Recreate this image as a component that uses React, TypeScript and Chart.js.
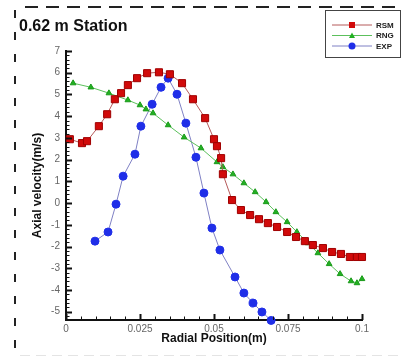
import React, { useEffect, useRef } from "react";
import { Chart, registerables } from "chart.js";

Chart.register(...registerables);

const chartTitle = "0.62 m Station";
const xAxisTitle = "Radial Position(m)";
const yAxisTitle = "Axial velocity(m/s)";

const xTickValues = [0, 0.025, 0.05, 0.075, 0.1];
const xTickLabels = ["0", "0.025", "0.05", "0.075", "0.1"];
const yTickValues = [-5, -4, -3, -2, -1, 0, 1, 2, 3, 4, 5, 6, 7];
const yTickLabels = ["-5", "-4", "-3", "-2", "-1", "0", "1", "2", "3", "4", "5", "6", "7"];

const rsmX = [0.0013, 0.0054, 0.0071, 0.0111, 0.0139, 0.0165, 0.0186, 0.0209, 0.024, 0.0274, 0.0314, 0.0351, 0.0392, 0.0429, 0.047, 0.05, 0.051, 0.0524, 0.053, 0.0561, 0.0591, 0.0622, 0.0652, 0.0682, 0.0713, 0.0747, 0.0777, 0.0807, 0.0834, 0.0868, 0.0899, 0.0929, 0.0959, 0.0983, 0.1];
const rsmY = [2.94, 2.76, 2.85, 3.54, 4.09, 4.78, 5.06, 5.43, 5.75, 5.98, 6.02, 5.93, 5.52, 4.78, 3.91, 2.94, 2.62, 2.07, 1.33, 0.14, -0.32, -0.55, -0.74, -0.92, -1.1, -1.33, -1.56, -1.75, -1.93, -2.07, -2.25, -2.34, -2.48, -2.48, -2.48];

const rngX = [0.0024, 0.0084, 0.0145, 0.0209, 0.025, 0.027, 0.0294, 0.0345, 0.0399, 0.0456, 0.051, 0.053, 0.0564, 0.0601, 0.0639, 0.0676, 0.0709, 0.0747, 0.078, 0.0818, 0.0851, 0.0889, 0.0926, 0.0963, 0.0983, 0.1];
const rngY = [5.52, 5.33, 5.06, 4.74, 4.51, 4.32, 4.14, 3.59, 3.03, 2.53, 1.89, 1.66, 1.33, 0.92, 0.51, 0.05, -0.41, -0.87, -1.33, -1.84, -2.3, -2.8, -3.26, -3.59, -3.68, -3.49];

const expX = [0.0098, 0.0142, 0.0169, 0.0193, 0.0233, 0.0253, 0.0291, 0.0321, 0.0345, 0.0375, 0.0405, 0.0439, 0.0466, 0.0493, 0.052, 0.0571, 0.0601, 0.0632, 0.0662, 0.0693];
const expY = [-1.75, -1.33, -0.05, 1.24, 2.25, 3.54, 4.55, 5.33, 5.75, 5.01, 3.68, 2.11, 0.46, -1.15, -2.16, -3.4, -4.14, -4.6, -5.01, -5.4];

const seriesNames = ["RSM", "RNG", "EXP"];

const FONT = "'Liberation Sans', Arial, sans-serif";
const X_MIN = 0, X_MAX = 0.1, Y_MIN = -5.38, Y_MAX = 7;

const toPoints = (xs: number[], ys: number[]) => xs.map((x, i) => ({ x, y: ys[i] }));

const decorPlugin = {
  id: "decor",
  afterDraw(chart: any) {
    const { ctx, chartArea, scales } = chart;
    const xs = scales.x, ys = scales.y;
    ctx.save();

    // inward ticks
    ctx.strokeStyle = "#111";
    for (let k = Math.ceil(Y_MIN / 0.2 - 1e-9); k <= Math.floor(Y_MAX / 0.2 + 1e-9); k++) {
      const v = k * 0.2;
      const major = k % 5 === 0;
      const py = Math.round(ys.getPixelForValue(v)) + 0.5;
      ctx.lineWidth = major ? 2 : 1;
      ctx.beginPath();
      ctx.moveTo(chartArea.left, py);
      ctx.lineTo(chartArea.left + (major ? 6 : 3.5), py);
      ctx.stroke();
    }
    for (let k = 0; k <= 20; k++) {
      const v = k * 0.005;
      const major = k % 5 === 0;
      const px = Math.round(xs.getPixelForValue(v)) + 0.5;
      ctx.lineWidth = major ? 2 : 1;
      ctx.beginPath();
      ctx.moveTo(px, chartArea.bottom);
      ctx.lineTo(px, chartArea.bottom - (major ? 6 : 3.5));
      ctx.stroke();
    }

    // titles
    ctx.fillStyle = "#111";
    ctx.font = `bold 16px ${FONT}`;
    ctx.textAlign = "left";
    ctx.textBaseline = "alphabetic";
    ctx.fillText(chartTitle, 19, 31);

    ctx.font = `bold 12px ${FONT}`;
    ctx.textAlign = "center";
    ctx.textBaseline = "middle";
    ctx.fillText(xAxisTitle, (chartArea.left + chartArea.right) / 2, 339);
    ctx.save();
    ctx.translate(38, (chartArea.top + chartArea.bottom) / 2);
    ctx.rotate(-Math.PI / 2);
    ctx.fillText(yAxisTitle, 0, 0);
    ctx.restore();

    // dashed frame
    ctx.strokeStyle = "#222";
    ctx.lineWidth = 2;
    ctx.setLineDash([13, 8]);
    ctx.beginPath();
    ctx.moveTo(25, 7);
    ctx.lineTo(403, 7);
    ctx.stroke();
    ctx.setLineDash([8, 14]);
    ctx.beginPath();
    ctx.moveTo(15, 10);
    ctx.lineTo(15, 358);
    ctx.stroke();
    ctx.setLineDash([10, 6]);
    ctx.strokeStyle = "#e4e4e4";
    ctx.lineWidth = 1;
    ctx.beginPath();
    ctx.moveTo(20, 355.5);
    ctx.lineTo(403, 355.5);
    ctx.stroke();
    ctx.setLineDash([]);

    // legend
    ctx.fillStyle = "#fff";
    ctx.fillRect(325.5, 10.5, 75, 47);
    ctx.strokeStyle = "#444";
    ctx.lineWidth = 1;
    ctx.strokeRect(325.5, 10.5, 75, 47);
    const rows = [25, 35.5, 46];
    chart.data.datasets.forEach((ds: any, i: number) => {
      const y = rows[i];
      ctx.strokeStyle = ds.borderColor;
      ctx.lineWidth = 1;
      ctx.beginPath();
      ctx.moveTo(332, y);
      ctx.lineTo(372, y);
      ctx.stroke();
      ctx.fillStyle = ds.pointBackgroundColor;
      ctx.strokeStyle = ds.pointBorderColor;
      ctx.beginPath();
      if (ds.pointStyle === "rect") {
        ctx.rect(349, y - 3, 6, 6);
      } else if (ds.pointStyle === "triangle") {
        ctx.moveTo(352, y - 3);
        ctx.lineTo(355, y + 2.5);
        ctx.lineTo(349, y + 2.5);
        ctx.closePath();
      } else {
        ctx.arc(352, y, 3.5, 0, Math.PI * 2);
      }
      ctx.fill();
      ctx.fillStyle = "#222";
      ctx.font = `bold 8px ${FONT}`;
      ctx.textAlign = "left";
      ctx.textBaseline = "middle";
      ctx.fillText(ds.label, 376, y + 0.5);
    });

    ctx.restore();
  },
};

export default function App() {
  const ref = useRef<HTMLCanvasElement | null>(null);
  useEffect(() => {
    if (!ref.current) return;
    const chart = new Chart(ref.current, {
      type: "line",
      data: {
        datasets: [
          {
            label: seriesNames[0],
            data: toPoints(rsmX, rsmY),
            borderColor: "#b55a5a",
            borderWidth: 1,
            pointStyle: "rect",
            pointRadius: 5,
            pointBackgroundColor: "#d10a0a",
            pointBorderColor: "#a00000",
            pointBorderWidth: 1,
            clip: false,
          },
          {
            label: seriesNames[1],
            data: toPoints(rngX, rngY),
            borderColor: "#5cc05c",
            borderWidth: 1,
            pointStyle: "triangle",
            pointRadius: 3.3,
            pointBackgroundColor: "#22b022",
            pointBorderColor: "#1a9a1a",
            pointBorderWidth: 1,
            clip: false,
          },
          {
            label: seriesNames[2],
            data: toPoints(expX, expY),
            borderColor: "#7f80c4",
            borderWidth: 1,
            pointStyle: "circle",
            pointRadius: 4,
            pointBackgroundColor: "#1f2ee8",
            pointBorderColor: "#1f2ee8",
            pointBorderWidth: 1,
            clip: false,
          },
        ] as any,
      },
      options: {
        responsive: false,
        animation: false,
        parsing: true,
        layout: { padding: { left: 0, top: 51, right: 41, bottom: 0 } },
        plugins: { legend: { display: false }, tooltip: { enabled: false }, title: { display: false } },
        scales: {
          x: {
            type: "linear",
            min: X_MIN,
            max: X_MAX,
            grid: { display: false, drawTicks: false },
            border: { display: true, color: "#111", width: 2 },
            afterBuildTicks: (s: any) => { s.ticks = xTickValues.map((v) => ({ value: v })); },
            afterFit: (s: any) => { s.height = 38; },
            ticks: {
              padding: 3,
              color: "#666",
              font: { family: FONT, size: 10 },
              maxRotation: 0,
              autoSkip: false,
              callback: (_v: any, i: number) => xTickLabels[i],
            },
          },
          y: {
            type: "linear",
            min: Y_MIN,
            max: Y_MAX,
            grid: { display: false, drawTicks: false },
            border: { display: true, color: "#111", width: 2 },
            afterBuildTicks: (s: any) => { s.ticks = yTickValues.map((v) => ({ value: v })); },
            afterFit: (s: any) => { s.width = 66; },
            ticks: {
              padding: 6,
              color: "#666",
              font: { family: FONT, size: 10 },
              autoSkip: false,
              callback: (_v: any, i: number) => yTickLabels[i],
            },
          },
        },
      } as any,
      plugins: [decorPlugin],
    });
    return () => chart.destroy();
  }, []);
  return (
    <div style={{ position: "absolute", left: 0, top: 0, width: 403, height: 358, background: "#fff" }}>
      <canvas ref={ref} width={403} height={358} style={{ display: "block" }} />
    </div>
  );
}
